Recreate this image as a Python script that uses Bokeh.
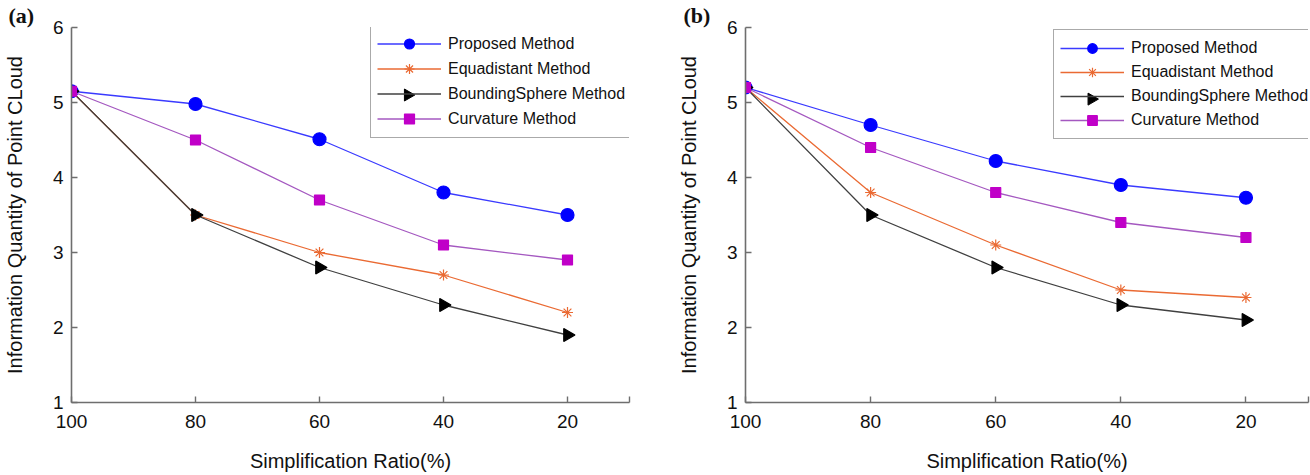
import math
from bokeh.plotting import figure
from bokeh.layouts import row
from bokeh.models import FixedTicker, Legend, LegendItem
from bokeh.embed import file_html
from bokeh.resources import INLINE

ratio = [100, 80, 60, 40, 20]
x_ticks = [100, 80, 60, 40, 20, 10]
x_tick_labels = {100: "100", 80: "80", 60: "60", 40: "40", 20: "20", 10: ""}
y_ticks = [1, 2, 3, 4, 5, 6]
series_names = ["Proposed Method", "Equadistant Method", "BoundingSphere Method", "Curvature Method"]

a_proposed = [5.15, 4.98, 4.51, 3.80, 3.50]
a_equadistant = [5.15, 3.50, 3.00, 2.70, 2.20]
a_bounding = [5.15, 3.50, 2.80, 2.30, 1.90]
a_curvature = [5.15, 4.50, 3.70, 3.10, 2.90]

b_proposed = [5.20, 4.70, 4.22, 3.90, 3.73]
b_equadistant = [5.20, 3.80, 3.10, 2.50, 2.40]
b_bounding = [5.20, 3.50, 2.80, 2.30, 2.10]
b_curvature = [5.20, 4.40, 3.80, 3.40, 3.20]

x_title = "Simplification Ratio(%)"
y_title = "Information Quantity of Point CLoud"

styles = [
    dict(line="#3a3aff", marker="circle", fill="#0000ff", mline="#0000ff", size=13, angle=0.0),
    dict(line="#ea6a33", marker="asterisk", fill="#ea6a33", mline="#ea6a33", size=11, angle=0.0),
    dict(line="#404040", marker="triangle", fill="#000000", mline="#000000", size=13, angle=-math.pi / 2),
    dict(line="#a458c0", marker="square", fill="#c000c8", mline="#c000c8", size=10, angle=0.0),
]

FONT = "Liberation Sans"
H = 475
X_RANGE = (100, 10)
Y_RANGE = (1, 6)
LEG_PAD = 6
LEG_GLYPH_W = 64


def make_panel(tag, series, width, bl, br, bt, bb, leg_xy, leg_row, tag_offset):
    p = figure(width=width, height=H, x_range=X_RANGE, y_range=Y_RANGE,
               output_backend="svg", toolbar_location=None,
               min_border_left=bl, min_border_right=br,
               min_border_top=bt, min_border_bottom=bb)
    p.outline_line_color = None
    p.grid.visible = False
    p.background_fill_color = "white"
    p.border_fill_color = "white"

    p.title.text = tag
    p.title.align = "left"
    p.title.offset = tag_offset
    p.title.standoff = 0
    p.title.text_font = "Liberation Serif"
    p.title.text_font_style = "bold"
    p.title.text_font_size = "22px"
    p.title.text_color = "#111111"

    for ax in (p.xaxis[0], p.yaxis[0]):
        ax.axis_line_color = "#6e6e6e"
        ax.axis_line_width = 1.6
        ax.major_tick_line_color = "#6e6e6e"
        ax.major_tick_line_width = 1.4
        ax.major_tick_in = 6
        ax.major_tick_out = 0
        ax.minor_tick_line_color = None
        ax.major_label_text_font = FONT
        ax.major_label_text_font_size = "19px"
        ax.major_label_text_color = "#111111"
        ax.axis_label_text_font = FONT
        ax.axis_label_text_font_size = "20px"
        ax.axis_label_text_font_style = "normal"
        ax.axis_label_text_color = "#111111"

    p.xaxis.ticker = FixedTicker(ticks=x_ticks)
    p.xaxis.major_label_overrides = x_tick_labels
    p.xaxis.major_label_standoff = 12
    p.xaxis.axis_label = x_title
    p.xaxis.axis_label_standoff = 19

    p.yaxis.ticker = FixedTicker(ticks=y_ticks)
    p.yaxis.major_label_standoff = 8
    p.yaxis.axis_label = y_title
    p.yaxis.axis_label_standoff = 24

    items = []
    rotated = None
    for name, ys, st in zip(series_names, series, styles):
        lr = p.line(ratio, ys, line_color=st["line"], line_width=1.3)
        sr = p.scatter(ratio, ys, marker=st["marker"], size=st["size"], angle=st["angle"],
                       fill_color=st["fill"], line_color=st["mline"], line_width=1.2)
        if st["angle"] != 0.0:
            # the legend cannot rotate markers; its symbol is drawn beneath the (transparent) legend box
            rends = [lr]
            rotated = st
        else:
            rends = [lr, sr]
        items.append(LegendItem(label=name, renderers=rends))

    leg = Legend(items=items, location=leg_xy)
    leg.label_text_font = FONT
    leg.label_text_font_size = "16px"
    leg.label_text_color = "#111111"
    leg.glyph_width = LEG_GLYPH_W
    leg.glyph_height = leg_row
    leg.label_height = leg_row
    leg.label_standoff = 7
    leg.spacing = 0
    leg.padding = LEG_PAD
    leg.margin = 0
    leg.border_line_color = "#555555"
    leg.border_line_width = 1.2
    leg.background_fill_alpha = 0.0
    p.add_layout(leg)

    # legend symbol (right-pointing triangle) for the BoundingSphere entry,
    # placed at the centre of that entry's glyph box, converted from legend pixels to axis units
    frame_w = width - bl - br
    frame_h = H - bt - bb
    n_items = len(series_names)
    leg_h = 2 * LEG_PAD + n_items * leg_row
    idx = series_names.index("BoundingSphere Method")
    sy = leg_xy[1] + leg_h - LEG_PAD - idx * leg_row - leg_row / 2
    sx = leg_xy[0] + LEG_PAD + LEG_GLYPH_W / 2
    gx = X_RANGE[0] + sx * (X_RANGE[1] - X_RANGE[0]) / frame_w
    gy = Y_RANGE[0] + sy * (Y_RANGE[1] - Y_RANGE[0]) / frame_h
    p.scatter([gx], [gy], marker="triangle", size=12, angle=rotated["angle"],
              fill_color=rotated["fill"], line_color=rotated["mline"], line_width=1.0)
    return p


pa = make_panel("(a)", [a_proposed, a_equadistant, a_bounding, a_curvature],
                655, 70, 26, 27, 73, (299, 264), 25, -63)
pb = make_panel("(b)", [b_proposed, b_equadistant, b_bounding, b_curvature],
                655, 90, 2, 27, 71, (308, 263), 24, -62)

layout = row(pa, pb)
open("out.html", "w").write(file_html(layout, INLINE))
